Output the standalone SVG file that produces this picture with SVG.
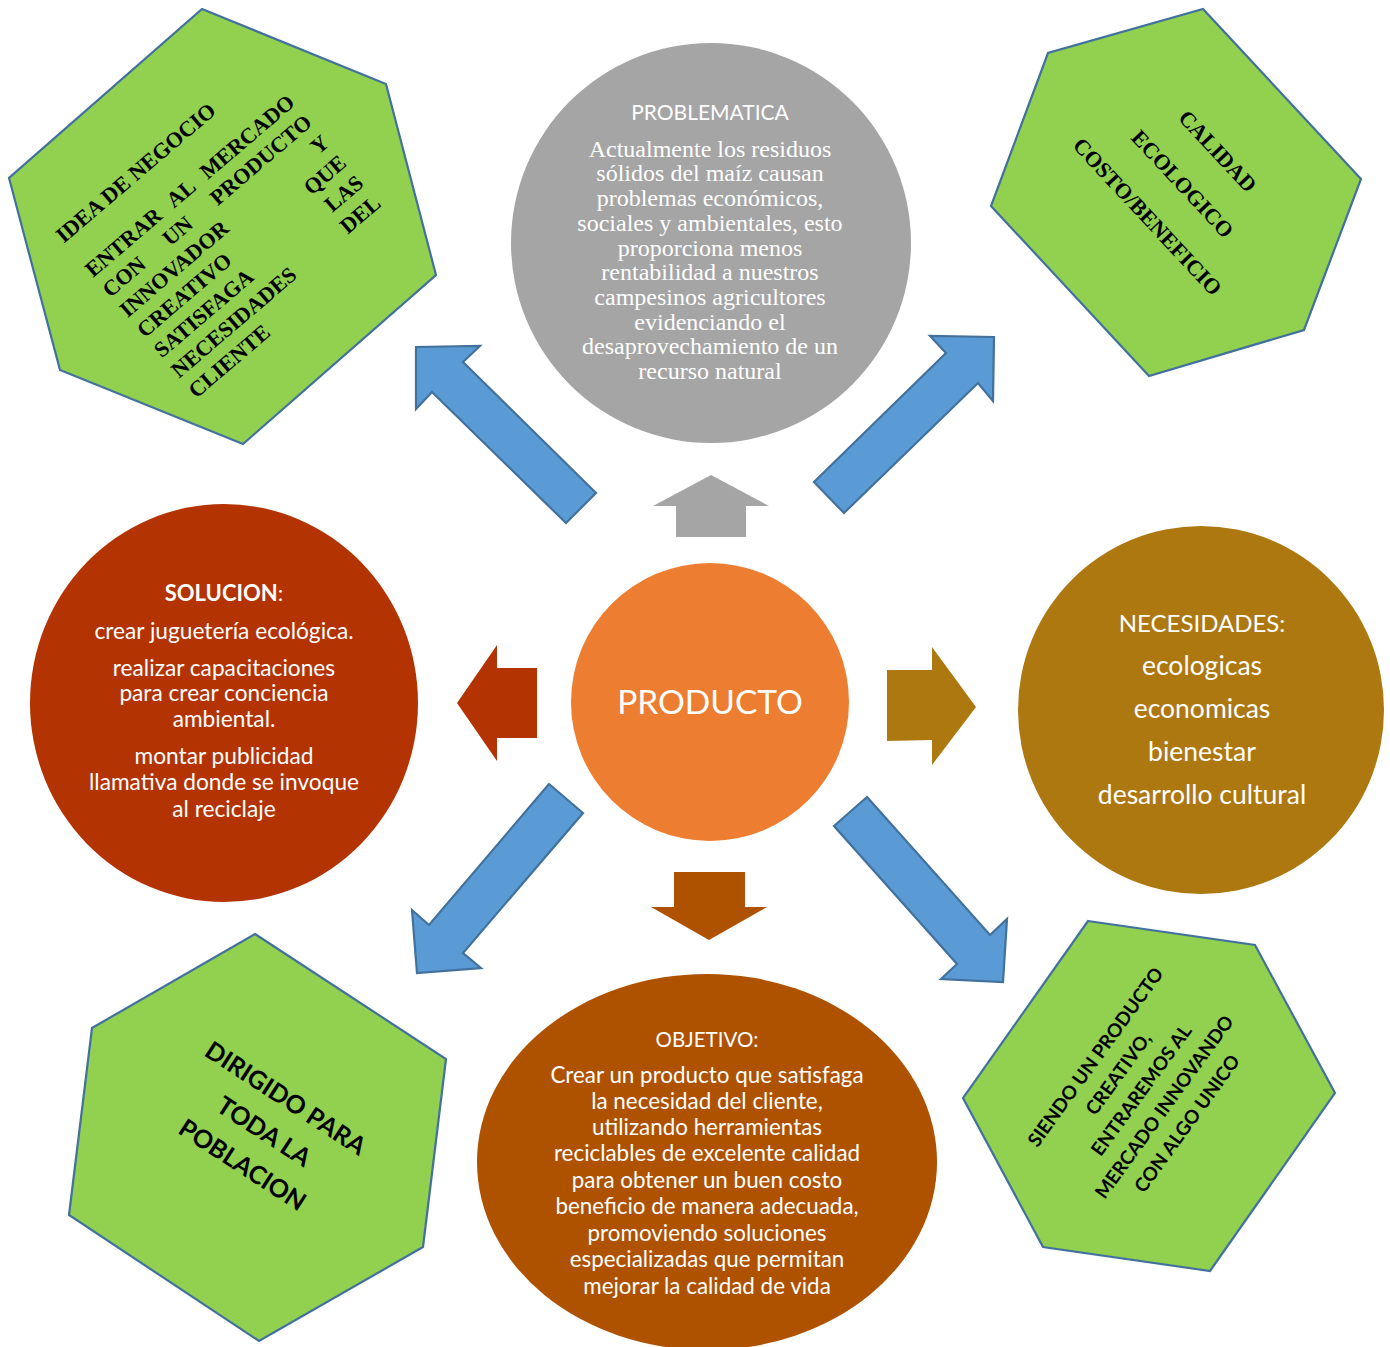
<svg xmlns="http://www.w3.org/2000/svg" width="1390" height="1347" viewBox="0 0 1390 1347">
<style>
.hex{fill:#92D050;stroke:#41719C;stroke-width:2.2}
.blue{fill:#5B9BD5;stroke:#41719C;stroke-width:2.2}
.cal{font-family:Lato,"Open Sans","Liberation Sans",sans-serif;fill:#fff;text-anchor:middle}
.tnr{font-family:"Liberation Serif","Times New Roman",serif;font-weight:bold;fill:#000;font-size:22px}
.calb{font-family:Lato,"Open Sans","Liberation Sans",sans-serif;font-weight:bold;fill:#000;text-anchor:middle}
</style>
<rect width="1390" height="1347" fill="#fff"/>

<g id="hex-idea">
<polygon class="hex" points="202,9 386,84 436,275 243,444 60,370 9,178"/>
<g class="tnr" transform="translate(93,278) rotate(-40.5)">
<text x="0" y="-45">IDEA DE NEGOCIO</text>
<text x="0" y="0">ENTRAR</text><text x="106.6" y="0">AL</text><text x="267" y="0" text-anchor="end">MERCADO</text>
<text x="0" y="26.5">CON</text><text x="79" y="26.5">UN</text><text x="267" y="26.5" text-anchor="end">PRODUCTO</text>
<text x="0" y="53">INNOVADOR</text><text x="267" y="53" text-anchor="end">Y</text>
<text x="0" y="79.5">CREATIVO</text><text x="267" y="79.5" text-anchor="end">QUE</text>
<text x="0" y="106">SATISFAGA</text><text x="267" y="106" text-anchor="end">LAS</text>
<text x="0" y="132.5">NECESIDADES</text><text x="267" y="132.5" text-anchor="end">DEL</text>
<text x="0" y="159">CLIENTE</text>
</g>
</g>

<g id="hex-calidad">
<polygon class="hex" points="1203,9 1361,179 1304,330 1149,376 991,206 1048,53"/>
<g class="tnr" text-anchor="middle" transform="translate(1182.5,184) rotate(47)">
<text x="0" y="-40.7">CALIDAD</text>
<text x="0" y="7.3">ECOLOGICO</text>
<text x="0" y="55.3">COSTO/BENEFICIO</text>
</g>
</g>

<g id="hex-siendo">
<polygon class="hex" points="1088,921 1255,945 1335,1093 1210,1271 1043,1247 963,1098"/>
<g class="calb" font-size="19" transform="translate(1141,1090) rotate(-54)">
<text x="0" y="-49.6">SIENDO UN PRODUCTO</text>
<text x="0" y="-21.3">CREATIVO,</text>
<text x="0" y="7">ENTRAREMOS AL</text>
<text x="0" y="35.3">MERCADO INNOVANDO</text>
<text x="0" y="63.6">CON ALGO UNICO</text>
</g>
</g>

<g id="hex-dirigido">
<polygon class="hex" points="255,934 446,1059 423,1247 259,1341 69,1215 92,1028"/>
<g class="calb" font-size="25" transform="translate(264,1131.5) rotate(33)">
<text x="0" y="-31">DIRIGIDO PARA</text>
<text x="0" y="8.7">TODA LA</text>
<text x="0" y="48.4">POBLACION</text>
</g>
</g>

<g id="node-problematica">
<circle cx="711" cy="243" r="200" fill="#A5A5A5"/>
<text class="cal" x="710" y="120" font-size="21">PROBLEMATICA</text>
<g font-family="'Liberation Serif','Times New Roman',serif" font-size="24" fill="#fff" text-anchor="middle">
<text x="710" y="156.7">Actualmente los residuos</text>
<text x="710" y="181.4">sólidos del maíz causan</text>
<text x="710" y="206.1">problemas económicos,</text>
<text x="710" y="230.8">sociales y ambientales, esto</text>
<text x="710" y="255.5">proporciona menos</text>
<text x="710" y="280.2">rentabilidad a nuestros</text>
<text x="710" y="304.9">campesinos agricultores</text>
<text x="710" y="329.6">evidenciando el</text>
<text x="710" y="354.3">desaprovechamiento de un</text>
<text x="710" y="379">recurso natural</text>
</g>
</g>

<g id="node-producto">
<circle cx="710" cy="702" r="139" fill="#ED7D31"/>
<text class="cal" x="710" y="714" font-size="33.5">PRODUCTO</text>
</g>

<g id="node-solucion">
<ellipse cx="224" cy="703" rx="194" ry="199" fill="#B43302"/>
<g class="cal" font-size="22.7">
<text x="224" y="601" font-size="22"><tspan font-weight="bold">SOLUCION</tspan>:</text>
<text x="224" y="639">crear juguetería ecológica.</text>
<text x="224" y="676">realizar capacitaciones</text>
<text x="224" y="701">para crear conciencia</text>
<text x="224" y="727">ambiental.</text>
<text x="224" y="764">montar publicidad</text>
<text x="224" y="790">llamativa donde se invoque</text>
<text x="224" y="817">al reciclaje</text>
</g>
</g>

<g id="node-necesidades">
<ellipse cx="1201" cy="710" rx="183" ry="184" fill="#AE7811"/>
<g class="cal" font-size="26.5">
<text x="1202" y="632" font-size="24">NECESIDADES:</text>
<text x="1202" y="675">ecologicas</text>
<text x="1202" y="718">economicas</text>
<text x="1202" y="761">bienestar</text>
<text x="1202" y="804">desarrollo cultural</text>
</g>
</g>

<g id="node-objetivo">
<ellipse cx="707" cy="1162" rx="230" ry="188" fill="#AF5200"/>
<g class="cal" font-size="22.4">
<text x="707" y="1047" font-size="20.5">OBJETIVO:</text>
<text x="707" y="1083">Crear un producto que satisfaga</text>
<text x="707" y="1109">la necesidad del cliente,</text>
<text x="707" y="1135">utilizando herramientas</text>
<text x="707" y="1161">reciclables de excelente calidad</text>
<text x="707" y="1188">para obtener un buen costo</text>
<text x="707" y="1214">beneficio de manera adecuada,</text>
<text x="707" y="1241">promoviendo soluciones</text>
<text x="707" y="1267">especializadas que permitan</text>
<text x="707" y="1294">mejorar la calidad de vida</text>
</g>
</g>

<g id="connectors">
<polygon class="blue" points="416,347 480,346 463,362 596,493 566,523 432,392 416,409"/>
<polygon class="blue" points="994,337 993,401 978,383 844,513 814,482 946,353 930,336"/>
<polygon class="blue" points="549,784 583,813 463,953 481,968 417,973 412,910 429,925"/>
<polygon class="blue" points="867,797 990,935 1007,919 1003,982 941,979 957,964 834,826"/>
<polygon fill="#A5A5A5" points="711,475 769,506 746,506 746,537 676,537 676,506 653,506"/>
<polygon fill="#B43302" points="457,703 497,645 497,668 537,668 537,738 497,738 497,761"/>
<polygon fill="#AE7811" points="887,670 932,670 932,647 976,707 932,765 932,740 887,741"/>
<polygon fill="#AF5200" points="674,872 745,872 745,907 767,907 709,940 651,907 674,907"/>
</g>
</svg>
